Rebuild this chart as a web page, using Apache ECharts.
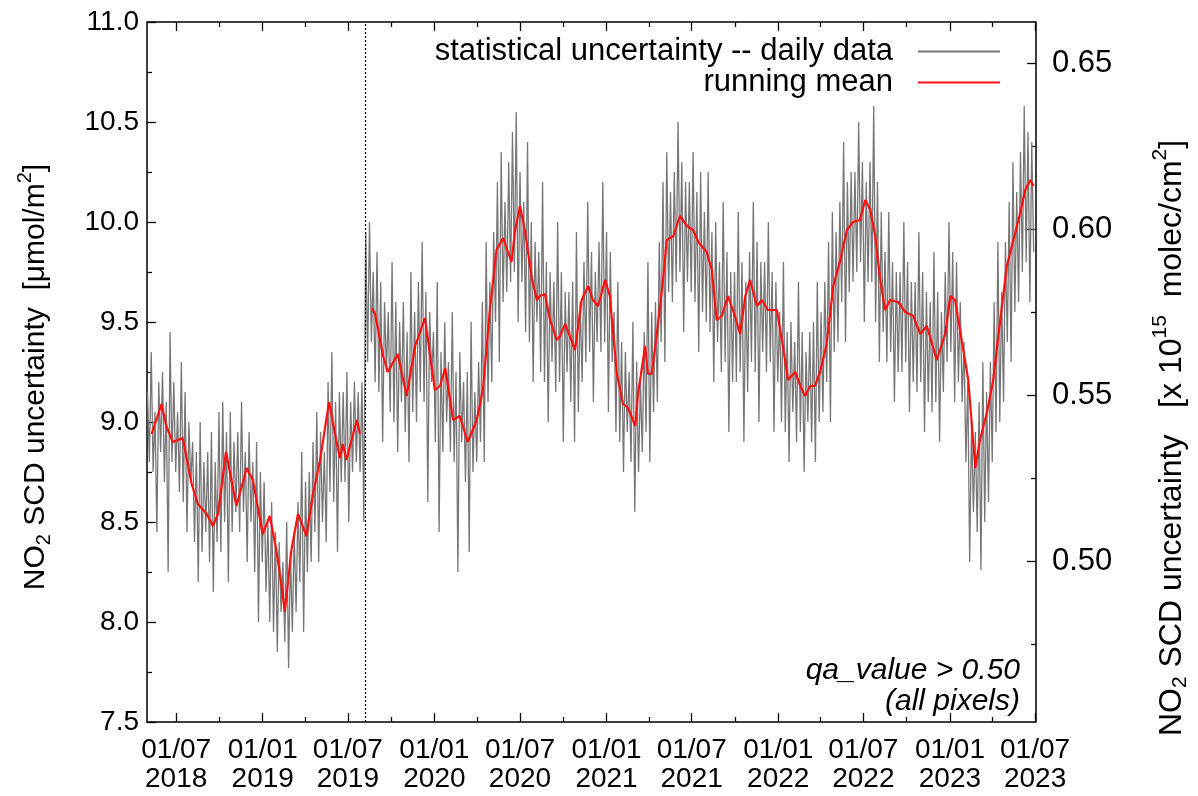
<!DOCTYPE html>
<html>
<head>
<meta charset="utf-8">
<script src="https://cdn.jsdelivr.net/npm/echarts@6/dist/echarts.min.js"></script>
<style>
  html, body { margin: 0; padding: 0; background: #fff; }
  #chart { width: 1198px; height: 796px; }
</style>
</head>
<body>
<div id="chart"></div>
<script>
// daily statistical uncertainty: one value every 4 days from 2018-05-01
const dailyStart = '2018-05-01';
const dailyStepDays = 4;
const dailyValues = [
  9.15, 8.80, 9.35, 8.75, 9.05, 8.45, 9.20, 8.85,
  9.25, 8.70, 9.10, 8.25, 9.45, 8.80, 9.20, 8.75,
  9.05, 8.65, 9.30, 8.60, 9.15, 8.45, 9.00, 8.70,
  8.90, 8.40, 8.85, 8.20, 9.00, 8.35, 8.80, 8.45,
  8.85, 8.30, 8.95, 8.15, 8.80, 8.40, 9.05, 8.35,
  9.10, 8.50, 8.95, 8.20, 9.05, 8.45, 8.90, 8.55,
  8.95, 8.45, 9.10, 8.55, 8.85, 8.30, 8.95, 8.50,
  8.80, 8.25, 8.90, 8.00, 8.75, 8.30, 8.70, 8.15,
  8.50, 8.00, 8.60, 7.95, 8.45, 7.85, 8.40, 8.05,
  8.30, 7.90, 8.50, 7.77, 8.35, 7.95, 8.45, 8.05,
  8.60, 8.20, 8.85, 7.95, 8.70, 8.25, 8.75, 8.30,
  8.90, 8.45, 9.05, 8.30, 8.95, 8.50, 8.85, 8.40,
  9.20, 8.65, 9.35, 8.60, 9.10, 8.35, 9.15, 8.70,
  9.15, 8.70, 9.25, 8.50, 9.10, 8.75, 9.20, 8.80,
  9.15, 8.75, 9.20, 8.50, 9.95, 9.30, 10.00, 9.40,
  9.75, 9.20, 9.85, 9.15, 9.70, 8.90, 9.60, 9.25,
  9.55, 9.05, 9.80, 9.00, 9.60, 8.85, 9.50, 9.10,
  9.60, 8.95, 9.45, 8.80, 9.75, 9.05, 9.55, 9.00,
  9.70, 9.15, 9.90, 9.10, 9.65, 8.60, 9.55, 9.20,
  9.45, 8.90, 9.70, 8.45, 9.35, 8.85, 9.50, 9.00,
  9.30, 8.85, 9.55, 8.80, 9.25, 8.25, 9.35, 8.90,
  9.20, 8.70, 9.25, 8.35, 9.50, 8.75, 9.15, 8.80,
  9.30, 8.90, 9.60, 8.80, 9.90, 9.10, 9.70, 9.20,
  9.95, 9.50, 10.20, 9.30, 10.35, 9.60, 10.10, 9.65,
  10.30, 9.70, 10.45, 9.75, 10.55, 9.50, 10.25, 9.70,
  10.10, 9.45, 10.40, 9.40, 10.00, 9.20, 9.90, 9.50,
  9.85, 9.25, 10.20, 9.20, 9.80, 9.00, 9.75, 9.30,
  9.70, 9.15, 10.00, 9.20, 9.75, 8.90, 9.65, 9.25,
  9.65, 9.10, 9.70, 8.90, 9.95, 9.05, 9.60, 9.20,
  9.80, 9.30, 10.10, 9.35, 9.85, 9.10, 9.75, 9.40,
  9.90, 9.35, 10.20, 9.40, 9.95, 9.05, 9.85, 9.30,
  9.55, 8.95, 9.70, 8.90, 9.40, 8.75, 9.35, 8.95,
  9.25, 8.80, 9.50, 8.55, 9.30, 8.75, 9.20, 8.85,
  9.45, 8.95, 9.80, 8.80, 9.55, 9.05, 9.60, 9.10,
  9.90, 9.40, 10.20, 9.30, 10.35, 9.65, 10.15, 9.60,
  10.25, 9.70, 10.50, 9.75, 10.30, 9.45, 10.20, 9.70,
  10.20, 9.65, 10.35, 9.60, 10.15, 9.35, 10.25, 9.55,
  10.05, 9.50, 10.25, 9.45, 9.95, 9.20, 10.00, 9.40,
  9.80, 9.25, 10.10, 9.30, 9.85, 8.95, 9.75, 9.20,
  9.75, 9.20, 10.05, 9.25, 9.80, 8.90, 9.70, 9.15,
  9.85, 9.30, 10.10, 9.25, 9.90, 9.00, 9.80, 9.35,
  9.80, 9.25, 10.00, 9.30, 9.75, 8.95, 9.70, 9.20,
  9.55, 9.00, 9.80, 8.95, 9.45, 8.80, 9.50, 9.05,
  9.40, 8.90, 9.70, 8.95, 9.45, 8.75, 9.35, 9.00,
  9.45, 8.90, 9.50, 8.80, 9.70, 9.00, 9.55, 9.05,
  9.70, 9.20, 9.90, 9.00, 10.05, 9.35, 9.95, 9.40,
  10.10, 9.60, 10.40, 9.40, 10.20, 9.65, 10.25, 9.70,
  10.25, 9.75, 10.50, 9.80, 10.30, 9.50, 10.20, 9.70,
  10.30, 9.70, 10.58, 9.50, 10.20, 9.30, 10.05, 9.45,
  9.85, 9.30, 10.05, 9.35, 9.80, 9.10, 9.75, 9.25,
  9.75, 9.25, 10.00, 9.30, 9.80, 9.05, 9.70, 9.20,
  9.70, 9.15, 9.95, 9.20, 9.75, 8.95, 9.65, 9.10,
  9.60, 9.05, 9.85, 9.10, 9.65, 8.90, 9.55, 9.15,
  9.75, 9.30, 10.00, 9.35, 9.85, 9.10, 9.80, 9.20,
  9.60, 9.10, 9.40, 8.80, 9.20, 8.30, 9.00, 8.55,
  8.95, 8.45, 9.10, 8.26, 9.30, 8.50, 9.15, 8.60,
  9.30, 8.80, 9.60, 8.95, 9.90, 9.00, 9.65, 9.10,
  9.90, 9.40, 10.10, 9.30, 10.30, 9.55, 10.15, 9.60,
  10.35, 9.75, 10.58, 9.80, 10.45, 9.60, 10.40, 9.85
];

// running mean, null where the processor version changes
const meanPoints = [
  ['2018-05-10', 8.94], ['2018-05-31', 9.09], ['2018-06-10', 8.98], ['2018-06-24', 8.90],
  ['2018-07-15', 8.92], ['2018-08-03', 8.69], ['2018-08-16', 8.59], ['2018-09-04', 8.54],
  ['2018-09-17', 8.48], ['2018-09-28', 8.54], ['2018-10-15', 8.85], ['2018-11-06', 8.58],
  ['2018-11-28', 8.77], ['2018-12-11', 8.71], ['2019-01-01', 8.44], ['2019-01-16', 8.53],
  ['2019-01-30', 8.36], ['2019-02-09', 8.20], ['2019-02-17', 8.05], ['2019-03-03', 8.36],
  ['2019-03-17', 8.54], ['2019-04-04', 8.43], ['2019-04-18', 8.64], ['2019-05-03', 8.81],
  ['2019-05-22', 9.10], ['2019-06-03', 8.95], ['2019-06-14', 8.82], ['2019-06-20', 8.89],
  ['2019-06-28', 8.81], ['2019-07-20', 9.01], ['2019-07-27', 8.94],
  ['2019-08-06', null],
  ['2019-08-21', 9.57], ['2019-08-28', 9.54], ['2019-09-14', 9.33], ['2019-09-24', 9.25],
  ['2019-10-15', 9.34], ['2019-11-03', 9.13], ['2019-11-21', 9.38], ['2019-12-12', 9.52],
  ['2019-12-23', 9.33], ['2020-01-02', 9.16], ['2020-01-13', 9.18], ['2020-01-24', 9.27],
  ['2020-02-10', 9.01], ['2020-02-24', 9.03], ['2020-03-12', 8.90], ['2020-03-31', 9.01],
  ['2020-04-13', 9.16], ['2020-04-28', 9.56], ['2020-05-12', 9.86], ['2020-05-26', 9.92],
  ['2020-06-13', 9.80], ['2020-06-20', 9.95], ['2020-07-01', 10.08], ['2020-07-12', 9.95],
  ['2020-07-26', 9.72], ['2020-08-06', 9.61], ['2020-08-12', 9.63], ['2020-08-23', 9.64],
  ['2020-09-03', 9.51], ['2020-09-17', 9.41], ['2020-09-24', 9.43], ['2020-10-05', 9.49],
  ['2020-10-15', 9.43], ['2020-10-26', 9.36], ['2020-11-09', 9.61], ['2020-11-23', 9.68],
  ['2020-12-03', 9.61], ['2020-12-14', 9.58], ['2020-12-29', 9.71], ['2021-01-08', 9.63],
  ['2021-01-23', 9.24], ['2021-02-05', 9.09], ['2021-02-16', 9.07], ['2021-03-03', 8.98],
  ['2021-03-09', 9.14], ['2021-03-24', 9.38], ['2021-03-30', 9.24], ['2021-04-07', 9.24],
  ['2021-04-18', 9.44], ['2021-05-01', 9.71], ['2021-05-09', 9.91], ['2021-05-23', 9.93],
  ['2021-06-06', 10.03], ['2021-06-21', 9.98], ['2021-07-04', 9.96], ['2021-07-15', 9.90],
  ['2021-08-02', 9.85], ['2021-08-13', 9.76], ['2021-08-23', 9.51], ['2021-09-03', 9.53],
  ['2021-09-16', 9.63], ['2021-10-01', 9.53], ['2021-10-12', 9.44], ['2021-10-23', 9.63],
  ['2021-11-02', 9.71], ['2021-11-17', 9.58], ['2021-11-27', 9.61], ['2021-12-10', 9.56],
  ['2021-12-29', 9.56], ['2022-01-11', 9.38], ['2022-01-22', 9.21], ['2022-02-06', 9.25],
  ['2022-02-17', 9.18], ['2022-02-27', 9.13], ['2022-03-10', 9.18], ['2022-03-20', 9.18],
  ['2022-03-31', 9.25], ['2022-04-14', 9.39], ['2022-04-28', 9.68], ['2022-05-13', 9.81],
  ['2022-05-27', 9.96], ['2022-06-09', 10.00], ['2022-06-24', 10.01], ['2022-07-05', 10.11],
  ['2022-07-16', 10.06], ['2022-07-26', 9.93], ['2022-08-06', 9.71], ['2022-08-16', 9.56],
  ['2022-08-27', 9.61], ['2022-09-13', 9.60], ['2022-09-28', 9.55], ['2022-10-15', 9.53],
  ['2022-10-30', 9.44], ['2022-11-13', 9.48], ['2022-12-04', 9.31], ['2022-12-22', 9.44],
  ['2023-01-02', 9.63], ['2023-01-12', 9.61], ['2023-01-26', 9.41], ['2023-02-09', 9.21],
  ['2023-02-24', 8.77], ['2023-03-06', 8.91], ['2023-03-21', 9.05], ['2023-04-03', 9.21],
  ['2023-04-18', 9.51], ['2023-05-02', 9.78], ['2023-05-16', 9.91], ['2023-05-31', 10.05],
  ['2023-06-10', 10.16], ['2023-06-21', 10.21], ['2023-06-28', 10.18]
];

const switchDate = '2019-08-06';
const majorTicks = ['2018-07-01', '2019-01-01', '2019-07-01', '2020-01-01', '2020-07-01', '2021-01-01',
  '2021-07-01', '2022-01-01', '2022-07-01', '2023-01-01', '2023-07-01'];
const minorTicks = ['2018-10-01', '2019-04-01', '2019-10-01', '2020-04-01', '2020-10-01',
  '2021-04-01', '2021-10-01', '2022-04-01', '2022-10-01', '2023-04-01'];
const rightTicks = [0.50, 0.55, 0.60, 0.65];
const rightMinorTicks = [0.475, 0.525, 0.575, 0.625];
const umolToMolec = 0.06022; // 1 umol/m2 = 0.06022 x 1e15 molec/cm2

const FONT = '"Liberation Sans", Arial, Helvetica, sans-serif';

// dates -> timestamps (the x axis is a plain value axis in ms)
function ts(s, addDays) {
  const p = s.split('-').map(Number);
  return new Date(p[0], p[1] - 1, p[2] + (addDays || 0)).getTime();
}
const xMin = ts('2018-04-30');
const xMax = ts('2023-07-03');

const grayData = dailyValues.map((v, i) => [ts(dailyStart, i * dailyStepDays), v]);
const meanData = meanPoints.map((p) => [ts(p[0]), p[1] === null ? '-' : p[1]]);

function pad(n) { return n < 10 ? '0' + n : '' + n; }

function tickAxis(pos, ticks, len, label) {
  const vals = ticks.map((t) => ts(t));
  return {
    type: 'value',
    min: xMin,
    max: xMax,
    position: pos,
    axisLine: { show: false },
    splitLine: { show: false },
    axisTick: { show: true, inside: true, length: len, customValues: vals, lineStyle: { color: '#000', width: 1.3 } },
    axisLabel: label ? {
      customValues: vals,
      fontSize: 28,
      lineHeight: 29,
      color: '#000',
      fontFamily: FONT,
      margin: 14,
      formatter: (val) => {
        const d = new Date(val);
        return pad(d.getDate()) + '/' + pad(d.getMonth() + 1) + '\n' + d.getFullYear();
      }
    } : { show: false }
  };
}

const nameRich = {
  t: { fontSize: 30, fontFamily: FONT, color: '#000' },
  s: { fontSize: 20, fontFamily: FONT, color: '#000', padding: [16, 0, 0, 0] },
  p: { fontSize: 20, fontFamily: FONT, color: '#000', padding: [0, 0, 22, 0] }
};
const nameRichRight = {
  t: { fontSize: 32, fontFamily: FONT, color: '#000' },
  s: { fontSize: 21, fontFamily: FONT, color: '#000', padding: [17, 0, 0, 0] },
  p: { fontSize: 21, fontFamily: FONT, color: '#000', padding: [0, 0, 23, 0] }
};

const chart = echarts.init(document.getElementById('chart'));
chart.setOption({
  animation: false,
  textStyle: { fontFamily: FONT },
  grid: {
    left: 147, right: 162, top: 22, bottom: 74,
    containLabel: false, outerBoundsMode: 'none',
    show: true, borderColor: '#000', borderWidth: 1.5, backgroundColor: 'transparent'
  },
  legend: {
    orient: 'vertical',
    right: 193,
    top: 31,
    align: 'right',
    icon: 'rect',
    itemWidth: 82,
    itemHeight: 2,
    itemGap: 0,
    textStyle: { fontSize: 31, lineHeight: 27, color: '#000', fontFamily: FONT, padding: [0, 20, 0, 0] },
    data: ['statistical uncertainty -- daily data', 'running mean']
  },
  xAxis: [
    tickAxis('bottom', majorTicks, 9, true),
    tickAxis('bottom', minorTicks, 5, false),
    tickAxis('top', majorTicks, 9, false),
    tickAxis('top', minorTicks, 5, false)
  ],
  yAxis: [
    {
      type: 'value',
      min: 7.5,
      max: 11,
      interval: 0.5,
      position: 'left',
      axisLine: { show: false },
      splitLine: { show: false },
      axisTick: { inside: true, length: 9, lineStyle: { color: '#000', width: 1.3 } },
      minorTick: { show: true, splitNumber: 2, length: 5, lineStyle: { color: '#000', width: 1.3 } },
      axisLabel: { fontSize: 28, color: '#000', margin: 8, fontFamily: FONT, formatter: (v) => v.toFixed(1) },
      name: '{t|NO}{s|2}{t| SCD uncertainty  [μmol/m}{p|2}{t|]}',
      nameLocation: 'middle',
      nameRotate: 90,
      nameGap: 90,
      nameTextStyle: { rich: nameRich, padding: [0, 10, 0, 0] }
    },
    {
      type: 'value',
      min: 7.5 * umolToMolec,
      max: 11 * umolToMolec,
      position: 'right',
      axisLine: { show: false },
      splitLine: { show: false },
      axisTick: { inside: true, length: 9, customValues: rightTicks, lineStyle: { color: '#000', width: 1.3 } },
      axisLabel: { customValues: rightTicks, fontSize: 31, color: '#000', margin: 16, fontFamily: FONT, formatter: (v) => v.toFixed(2) },
      name: '{t|NO}{s|2}{t| SCD uncertainty   [x 10}{p|15}{t|  molec/cm}{p|2}{t|]}',
      nameLocation: 'middle',
      nameRotate: 90,
      nameGap: 114,
      nameTextStyle: { rich: nameRichRight, padding: [0, 132, 0, 0] }
    },
    {
      type: 'value',
      min: 7.5 * umolToMolec,
      max: 11 * umolToMolec,
      position: 'right',
      axisLine: { show: false },
      splitLine: { show: false },
      axisTick: { inside: true, length: 5, customValues: rightMinorTicks, lineStyle: { color: '#000', width: 1.3 } },
      axisLabel: { show: false }
    }
  ],
  graphic: [
    { type: 'text', right: 178, top: 656, style: { text: 'qa_value > 0.50', font: 'italic 30px ' + FONT, fill: '#000' } },
    { type: 'text', right: 178, top: 687, style: { text: '(all pixels)', font: 'italic 30px ' + FONT, fill: '#000' } }
  ],
  series: [
    {
      name: 'statistical uncertainty -- daily data',
      type: 'line',
      xAxisIndex: 0,
      yAxisIndex: 0,
      data: grayData,
      symbol: 'none',
      silent: true,
      lineStyle: { color: '#777777', width: 1.3 },
      itemStyle: { color: '#777777' },
      markLine: {
        silent: true,
        symbol: ['none', 'none'],
        label: { show: false },
        lineStyle: { type: [2, 2], color: '#000', width: 1.2 },
        data: [{ xAxis: ts(switchDate) }]
      }
    },
    {
      name: 'running mean',
      type: 'line',
      xAxisIndex: 0,
      yAxisIndex: 0,
      data: meanData,
      symbol: 'none',
      silent: true,
      connectNulls: false,
      lineStyle: { color: '#ff1010', width: 2.2 },
      itemStyle: { color: '#ff1010' }
    }
  ]
});
</script>
</body>
</html>
